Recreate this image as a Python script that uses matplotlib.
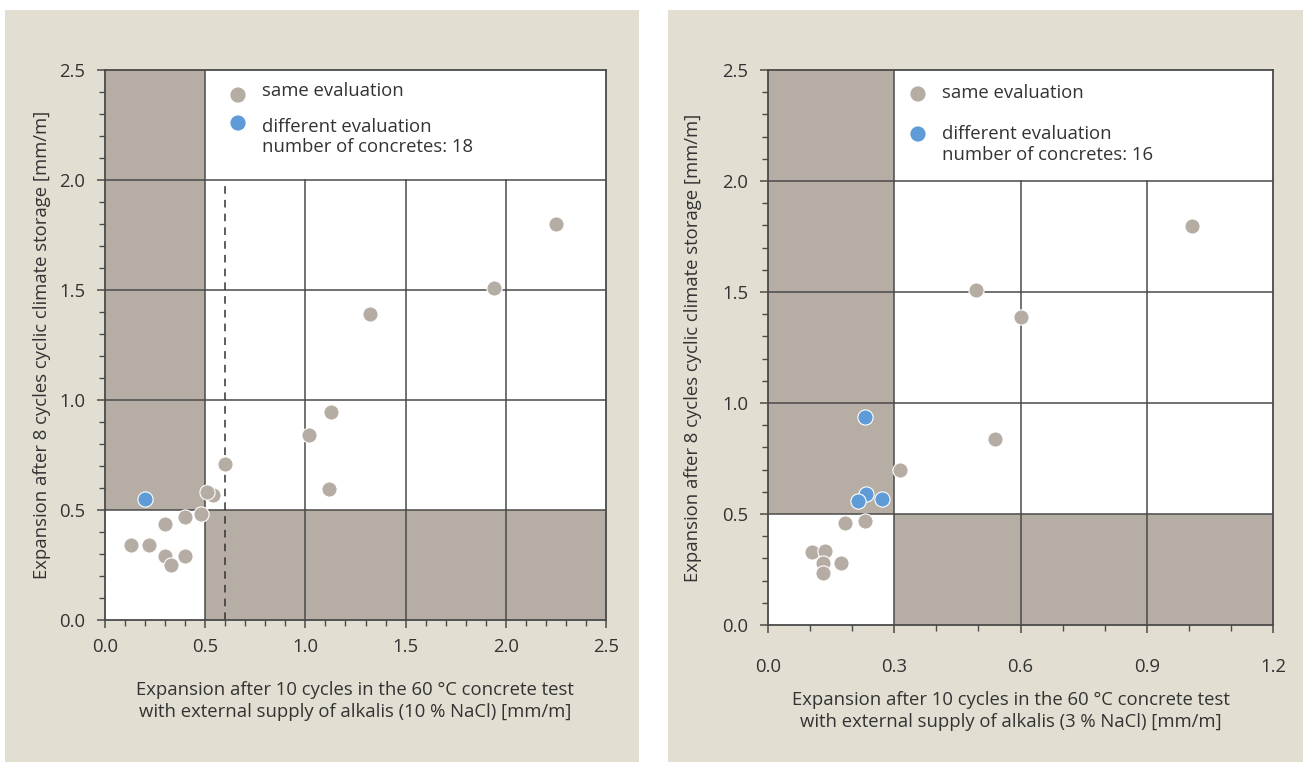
import matplotlib
matplotlib.use("Agg")
import matplotlib.pyplot as plt
from matplotlib.patches import Rectangle
import numpy as np

plt.rcParams['font.family'] = ['Open Sans', 'DejaVu Sans']

# ---- data: left chart (10 % NaCl) ----
left_same_x = [0.13, 0.22, 0.30, 0.40, 0.48, 0.54, 0.51, 0.30, 0.33, 0.40, 0.60,
               1.02, 1.13, 1.12, 1.32, 1.94, 2.25]
left_same_y = [0.34, 0.34, 0.435, 0.47, 0.48, 0.57, 0.58, 0.29, 0.25, 0.29, 0.71,
               0.84, 0.945, 0.595, 1.39, 1.51, 1.80]
left_diff_x = [0.20]
left_diff_y = [0.55]

# ---- data: right chart (3 % NaCl) ----
right_same_x = [0.313, 0.184, 0.230, 0.105, 0.135, 0.131, 0.131, 0.173,
                0.494, 0.601, 0.539, 1.008]
right_same_y = [0.70, 0.46, 0.47, 0.33, 0.333, 0.28, 0.236, 0.28,
                1.51, 1.387, 0.838, 1.797]
right_diff_x = [0.231, 0.234, 0.214, 0.272]
right_diff_y = [0.937, 0.59, 0.558, 0.567]

left_ticks_x = [0.0, 0.5, 1.0, 1.5, 2.0, 2.5]
right_ticks_x = [0.0, 0.3, 0.6, 0.9, 1.2]
ticks_y = [0.0, 0.5, 1.0, 1.5, 2.0, 2.5]

ylabel = "Expansion after 8 cycles cyclic climate storage [mm/m]"
xlabel_left = ("Expansion after 10 cycles in the 60 °C concrete test\n"
               "with external supply of alkalis (10 % NaCl) [mm/m]")
xlabel_right = ("Expansion after 10 cycles in the 60 °C concrete test\n"
                "with external supply of alkalis (3 % NaCl) [mm/m]")

BG = "#e2ded1"
FILL = "#b6ada4"
GRAY_PT = "#b5aca3"
BLUE_PT = "#5f9bd6"
LINE = "#4a4a4a"
TXT = "#333333"
FS = 13.3

W, H = 1306, 762
fig = plt.figure(figsize=(W / 100, H / 100), dpi=100)
fig.patch.set_facecolor("white")

def px_rect(x0, x1, ytop, ybot):
    return Rectangle((x0 / W, 1 - ybot / H), (x1 - x0) / W, (ybot - ytop) / H,
                     transform=fig.transFigure, facecolor=BG, edgecolor="none", zorder=-10)

fig.patches.append(px_rect(5, 639, 10, 762))
fig.patches.append(px_rect(668, 1303, 10, 762))

def make_axes(rect, xmax, xticks, split, sx, sy, dx, dy, nconc,
              leg, dashed, xpad):
    ax = fig.add_axes(rect)
    ax.set_zorder(1)
    ax.set_facecolor("white")
    ax.set_xlim(0, xmax)
    ax.set_ylim(0, 2.5)
    # gray regions
    ax.add_patch(Rectangle((0, 0.5), split, 2.0, facecolor=FILL, edgecolor="none", zorder=1))
    ax.add_patch(Rectangle((split, 0), xmax - split, 0.5, facecolor=FILL, edgecolor="none", zorder=1))
    # grid lines
    for yv in [0.5, 1.0, 1.5, 2.0]:
        ax.plot([0, xmax], [yv, yv], color=LINE, lw=1.1, zorder=2)
    ax.plot([split, split], [0, 2.5], color=LINE, lw=1.1, zorder=2)
    for xv in xticks[1:-1]:
        if abs(xv - split) > 1e-9:
            ax.plot([xv, xv], [0, 2.0], color=LINE, lw=1.1, zorder=2)
    if dashed is not None:
        ax.plot([dashed, dashed], [0, 2.0], color="#333333", lw=1.1,
                linestyle=(0, (5, 4)), zorder=2)
    for s in ax.spines.values():
        s.set_color(LINE)
        s.set_linewidth(1.3)
    ax.set_xticks(xticks)
    ax.set_xticklabels([f"{v:.1f}" for v in xticks])
    ax.set_xticks(np.arange(0, xmax + 1e-9, 0.1), minor=True)
    ax.set_yticks(ticks_y)
    ax.set_yticklabels([f"{v:.1f}" for v in ticks_y])
    ax.set_yticks(np.arange(0, 2.5 + 1e-9, 0.1), minor=True)
    ax.tick_params(which="major", direction="out", length=6, width=1.1, color=LINE,
                   labelsize=FS, labelcolor=TXT)
    ax.tick_params(which="minor", direction="out", length=4, width=1.0, color=LINE)
    ax.tick_params(axis="x", which="major", pad=xpad)
    ax.tick_params(axis="y", which="major", pad=8)
    ax.scatter(sx, sy, s=120, color=GRAY_PT, edgecolors="white", linewidths=0.8, zorder=5)
    ax.scatter(dx, dy, s=120, color=BLUE_PT, edgecolors="white", linewidths=0.8, zorder=6)
    # legend
    mx, my1, my2, tx, ty1, ty2, ty3 = leg
    ax.scatter([mx], [my1], s=120, color=GRAY_PT, edgecolors="none",
               transform=ax.transAxes, clip_on=False, zorder=6)
    ax.scatter([mx], [my2], s=120, color=BLUE_PT, edgecolors="none",
               transform=ax.transAxes, clip_on=False, zorder=6)
    ax.text(tx, ty1, "same evaluation", transform=ax.transAxes, fontsize=FS,
            color=TXT, va="center", ha="left")
    ax.text(tx, ty2, "different evaluation", transform=ax.transAxes, fontsize=FS,
            color=TXT, va="center", ha="left")
    ax.text(tx, ty3, f"number of concretes: {nconc}", transform=ax.transAxes, fontsize=FS,
            color=TXT, va="center", ha="left")
    return ax

axL = make_axes([105 / W, 1 - 620 / H, 501 / W, 550 / H], 2.5, left_ticks_x, 0.5,
                left_same_x, left_same_y, left_diff_x, left_diff_y, 18,
                (0.2655, 0.9545, 0.9036, 0.313, 0.9618, 0.896, 0.860), 0.6, 7)
axR = make_axes([768 / W, 1 - 625 / H, 505 / W, 555 / H], 1.2, right_ticks_x, 0.3,
                right_same_x, right_same_y, right_diff_x, right_diff_y, 16,
                (0.297, 0.9568, 0.8847, 0.3446, 0.9586, 0.8847, 0.8468), None, 18)

fig.text(355 / W, 1 - 701 / H, xlabel_left, ha="center", va="center", fontsize=FS,
         color=TXT, linespacing=1.3)
fig.text(1011 / W, 1 - 711 / H, xlabel_right, ha="center", va="center", fontsize=FS,
         color=TXT, linespacing=1.3)
fig.text(42 / W, 1 - 345 / H, ylabel, ha="center", va="center", rotation=90,
         fontsize=FS, color=TXT)
fig.text(693 / W, 1 - 348 / H, ylabel, ha="center", va="center", rotation=90,
         fontsize=FS, color=TXT)

fig.savefig("out.png", dpi=100, facecolor=fig.get_facecolor())
